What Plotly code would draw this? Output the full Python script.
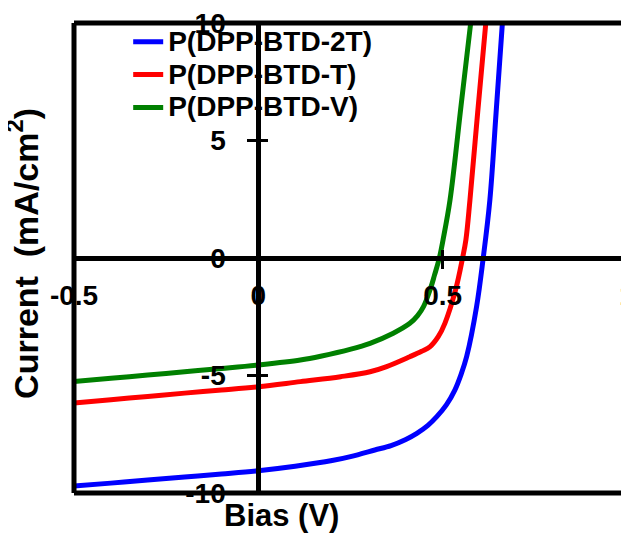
import plotly.graph_objects as go

# ---- data ----
series_names = ["P(DPP-BTD-2T)", "P(DPP-BTD-T)", "P(DPP-BTD-V)"]
series_colors = ["#0000FF", "#FF0000", "#008000"]

bias_2t = [-0.5, -0.4, -0.3, -0.2, -0.1, 0.0, 0.1, 0.2, 0.25, 0.316, 0.36, 0.40, 0.43, 0.46, 0.484, 0.51, 0.533, 0.55, 0.565, 0.592, 0.610, 0.628, 0.645, 0.662]
curr_2t = [-9.70, -9.58, -9.45, -9.32, -9.19, -9.05, -8.86, -8.62, -8.45, -8.17, -7.98, -7.72, -7.46, -7.12, -6.75, -6.25, -5.62, -4.95, -4.2, -2.07, 0.0, 2.47, 6.2, 10.0]

bias_t = [-0.5, -0.4, -0.3, -0.2, -0.1, 0.0, 0.114, 0.223, 0.303, 0.348, 0.411, 0.443, 0.466, 0.488, 0.506, 0.535, 0.554, 0.563, 0.574, 0.595, 0.617]
curr_t = [-6.17, -6.03, -5.89, -5.75, -5.62, -5.48, -5.26, -5.05, -4.84, -4.62, -4.2, -3.97, -3.77, -3.35, -2.78, -1.36, 0.0, 0.77, 2.47, 6.2, 10.0]

bias_v = [-0.5, -0.4, -0.3, -0.2, -0.1, 0.0, 0.114, 0.169, 0.251, 0.303, 0.366, 0.411, 0.432, 0.448, 0.468, 0.478, 0.491, 0.501, 0.520, 0.550, 0.576]
curr_v = [-5.26, -5.12, -4.98, -4.84, -4.70, -4.55, -4.34, -4.18, -3.88, -3.63, -3.2, -2.78, -2.45, -2.07, -1.25, -0.72, 0.0, 0.77, 2.47, 6.5, 10.0]

x_tickvals = [-0.5, 0, 0.5, 1.0]
x_ticktext = ["-0.5", "0", "0.5", "1"]
y_tickvals = [-10, -5, 0, 5, 10]
y_ticktext = ["-10", "-5", "0", "5", "10"]

x_range = [-0.5, 1.0]
y_range = [-10, 10]

FONT = "Arial, Liberation Sans, sans-serif"

fig = go.Figure()
for xs, ys, name, col in zip([bias_2t, bias_t, bias_v], [curr_2t, curr_t, curr_v], series_names, series_colors):
    fig.add_trace(go.Scatter(x=xs, y=ys, mode="lines",
                             name='<span style="font-size:28px">' + name + '</span>',
                             line=dict(color=col, width=5, shape="spline", smoothing=1.0)))

# empty trace to activate the overlay axes (inside half of the crossing ticks)
fig.add_trace(go.Scatter(x=[], y=[], xaxis="x2", yaxis="y2", showlegend=False, hoverinfo="skip"))

y0_pos = (0 - y_range[0]) / (y_range[1] - y_range[0])
x0_pos = (0 - x_range[0]) / (x_range[1] - x_range[0])

tickfont = dict(family=FONT, size=28, color="black", weight="bold")

fig.update_layout(
    width=629, height=536,
    margin=dict(l=66, r=10, t=15, b=51, autoexpand=False),
    paper_bgcolor="white", plot_bgcolor="white",
    showlegend=True,
    legend=dict(x=0.098, y=1.006, xanchor="left", yanchor="top",
                bgcolor="rgba(0,0,0,0)", borderwidth=0,
                font=dict(family=FONT, size=23, color="black", weight="bold"),
                tracegroupgap=0),
    xaxis=dict(range=x_range, anchor="free", position=y0_pos, showgrid=False, zeroline=False,
               showline=True, linecolor="black", linewidth=5, automargin=False,
               ticks="outside", ticklen=8, tickwidth=3, tickcolor="black",
               tickvals=x_tickvals, ticktext=x_ticktext, tickfont=tickfont,
               ticklabelstandoff=2, ticklabeloverflow="allow"),
    yaxis=dict(range=y_range, anchor="free", position=x0_pos, showgrid=False, zeroline=False,
               showline=True, linecolor="black", linewidth=5, automargin=False,
               ticks="outside", ticklen=9, tickwidth=3, tickcolor="black",
               tickvals=y_tickvals, ticktext=y_ticktext, tickfont=tickfont,
               ticklabelstandoff=16, ticklabeloverflow="allow"),
    xaxis2=dict(range=x_range, overlaying="x", anchor="free", position=y0_pos, showgrid=False,
                zeroline=False, showline=False, ticks="inside", ticklen=8, tickwidth=3,
                tickcolor="black", tickvals=x_tickvals, showticklabels=False, automargin=False),
    yaxis2=dict(range=y_range, overlaying="y", anchor="free", position=x0_pos, side="left",
                showgrid=False, zeroline=False, showline=False, ticks="inside", ticklen=9,
                tickwidth=3, tickcolor="black", tickvals=y_tickvals, showticklabels=False,
                automargin=False),
    shapes=[
        dict(type="rect", xref="paper", yref="paper", x0=0, y0=0, x1=1, y1=1,
             line=dict(color="#999999", width=1), layer="above"),
        dict(type="line", xref="paper", yref="paper", x0=0, y0=0, x1=0, y1=1,
             line=dict(color="black", width=5), layer="above"),
        dict(type="line", xref="paper", yref="paper", x0=0, y0=1, x1=1, y1=1,
             line=dict(color="black", width=5), layer="above"),
        dict(type="line", xref="paper", yref="paper", x0=0, y0=0, x1=1, y1=0,
             line=dict(color="black", width=5), layer="above"),
    ],
    annotations=[
        dict(text="Current\u00a0 (mA/cm<sup>2</sup>)", xref="paper", yref="paper",
             x=-0.092, y=0.509, textangle=-90, showarrow=False,
             xanchor="center", yanchor="middle",
             font=dict(family=FONT, size=34, color="black", weight="bold")),
        dict(text="Bias (V)", xref="paper", yref="paper",
             x=0.376, y=-0.047, showarrow=False, xanchor="center", yanchor="middle",
             font=dict(family=FONT, size=31, color="black", weight="bold")),
    ],
)

fig.write_html("out.html")
